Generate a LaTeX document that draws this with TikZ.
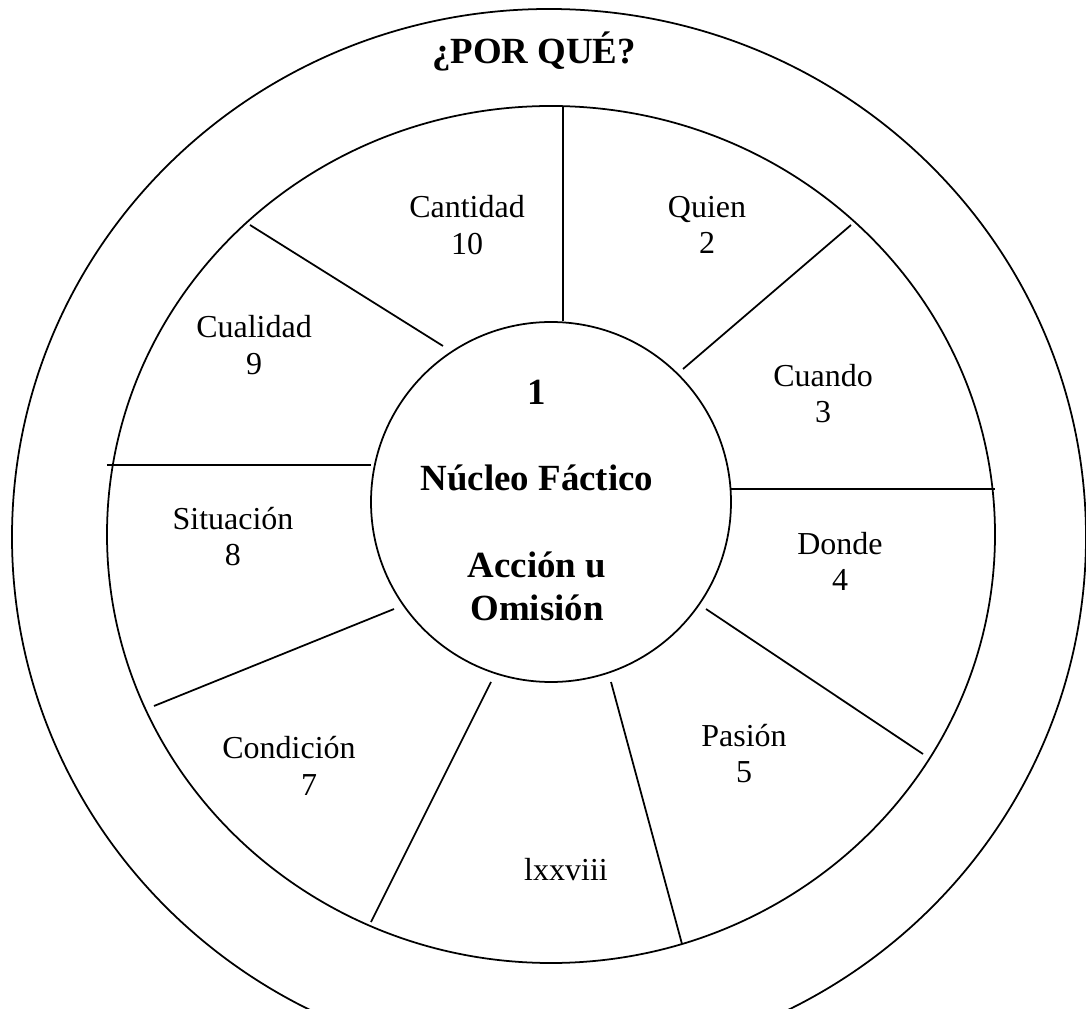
\documentclass[tikz,border=0pt]{standalone}
\usepackage{fontspec}
\setmainfont{Liberation Serif}
\usepackage{tikz}
\usetikzlibrary{positioning}

\begin{document}
\begin{tikzpicture}[line width=1pt,
  lbl/.style={align=center,inner sep=0pt,font=\fontsize{18.2}{20.8}\selectfont},
  titulo/.style={align=center,inner sep=0pt,font=\fontsize{21}{24.5}\selectfont\bfseries}]
\useasboundingbox (-11.02,-10.12) rectangle (10.7,10.04);
\clip (-11.02,-10.12) rectangle (10.7,10.04);
\draw (-0.04,-0.7) ellipse [x radius=10.74cm,y radius=10.56cm];
\draw (0,-0.65) ellipse [x radius=8.88cm,y radius=8.57cm];
\node[draw,circle,minimum size=7.2cm] (nucleo) at (0,0) {};
\node[titulo] (porque) at (-0.34,9.0) {¿POR QUÉ?};
\node[titulo] (centro) at (-0.28,0.03) {1\\[24.5pt]Núcleo Fáctico\\[24.5pt]Acción u\\Omisión};
% radios
\draw (0.24,7.9) -- (0.24,3.62);
\draw (6.0,5.54) -- (2.64,2.66);
\draw (3.6,0.26) -- (8.88,0.26);
\draw (3.1,-2.14) -- (7.44,-5.04);
\draw (1.2,-3.6) -- (2.62,-8.84);
\draw (-1.2,-3.6) -- (-3.6,-8.4);
\draw (-3.14,-2.14) -- (-7.94,-4.08);
\draw (-8.88,0.74) -- (-3.6,0.74);
\draw (-6.02,5.54) -- (-2.16,3.12);
% sectores
\node[lbl] (cantidad) at (-1.68,5.54) {Cantidad\\10};
\node[lbl] (quien) at (3.12,5.54) {Quien\\2};
\node[lbl] (cuando) at (5.44,2.17) {Cuando\\3};
\node[lbl] (donde) at (5.78,-1.19) {Donde\\4};
\node[lbl] (pasion) at (3.86,-5.03) {Pasión\\5};
\node[lbl] (pagina) at (0.3,-7.36) {lxxviii};
\node[lbl] (condicion) at (-5.24,-5.28) {Condición\\\hspace*{0.8cm}7};
\node[lbl] (situacion) at (-6.36,-0.69) {Situación\\8};
\node[lbl] (cualidad) at (-5.94,3.14) {Cualidad\\9};
\end{tikzpicture}
\end{document}
